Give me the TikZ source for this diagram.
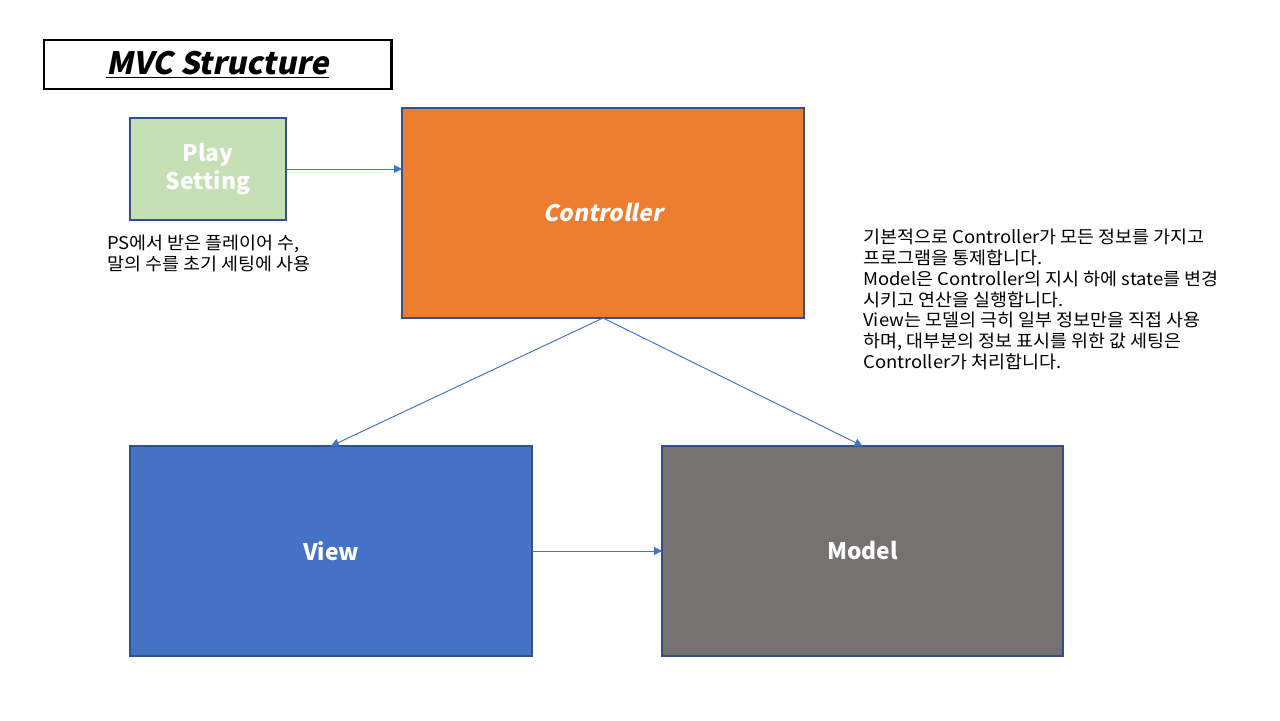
\documentclass[tikz,border=0pt]{standalone}
\usepackage{fontspec}
\setmainfont{Noto Sans CJK KR}
\newfontfamily\slantfont{Noto Sans CJK KR}[FakeSlant=0.2]
\newfontfamily\notefont{Noto Sans CJK KR}[FakeStretch=1.05]
\usetikzlibrary{positioning,arrows.meta}
\definecolor{psgreen}{HTML}{C5E0B4}
\definecolor{ctrlorange}{HTML}{ED7D31}
\definecolor{viewblue}{HTML}{4472C4}
\definecolor{modelgray}{HTML}{767171}
\definecolor{edgeblue}{HTML}{2F528F}
\newcommand*{\mvcbox}[6]{%
  \node [ block, fill = #3, minimum width = #4, minimum height = #5 ] (#1) at (#2) {#6};
}

\begin{document}
\begin{tikzpicture}[x=0.02cm, y=-0.02cm,
    block/.style = {draw = edgeblue, line width = 0.6pt, inner sep = 0pt, outer sep = 0pt,
                    text = white, font = \fontsize{13}{15.5}\selectfont\bfseries, align = center},
    link/.style  = {draw = viewblue, line width = 0.55pt, -{Triangle[length=4.5pt,width=4.5pt]}},
    note/.style  = {inner sep = 0pt, anchor = north west, align = left,
                    font = \notefont\fontsize{10}{11.8}\selectfont}]
  \useasboundingbox (0,0) rectangle (1280,720);

  % title
  \node [draw, line width = 1.7pt, minimum width = 347*0.02cm, minimum height = 49*0.02cm,
         inner sep = 0pt] (title) at (217.5,64.5)
        {\slantfont\fontsize{17.5}{21}\selectfont\raisebox{-1.6pt}{\underline{\bfseries MVC Structure}}};

  % boxes
  \mvcbox{play}{208,169}{psgreen}{156*0.02cm}{102*0.02cm}{Play\\Setting}
  \mvcbox{ctrl}{603,213}{ctrlorange}{402*0.02cm}{210*0.02cm}{\slantfont\bfseries Controller}
  \mvcbox{view}{331,551}{viewblue}{402*0.02cm}{210*0.02cm}{View}
  \mvcbox{model}{862.5,551}{modelgray}{401*0.02cm}{210*0.02cm}{Model}

  % connectors
  \draw [link] (play.east) -- (play.east -| ctrl.west);
  \draw [link] (ctrl.south) -- (view.north);
  \draw [link] (ctrl.south) -- (model.north);
  \draw [link] (view.east) -- (model.west);

  % notes
  \node [note] (psnote) at (107,235) {PS에서 받은 플레이어 수,\\말의 수를 초기 세팅에 사용};
  \node [note] (mvcnote) at (863,229) {기본적으로 Controller가 모든 정보를 가지고\\
    프로그램을 통제합니다.\\
    Model은 Controller의 지시 하에 state를 변경\\
    시키고 연산을 실행합니다.\\
    View는 모델의 극히 일부 정보만을 직접 사용\\
    하며, 대부분의 정보 표시를 위한 값 세팅은\\
    Controller가 처리합니다.};
\end{tikzpicture}
\end{document}
